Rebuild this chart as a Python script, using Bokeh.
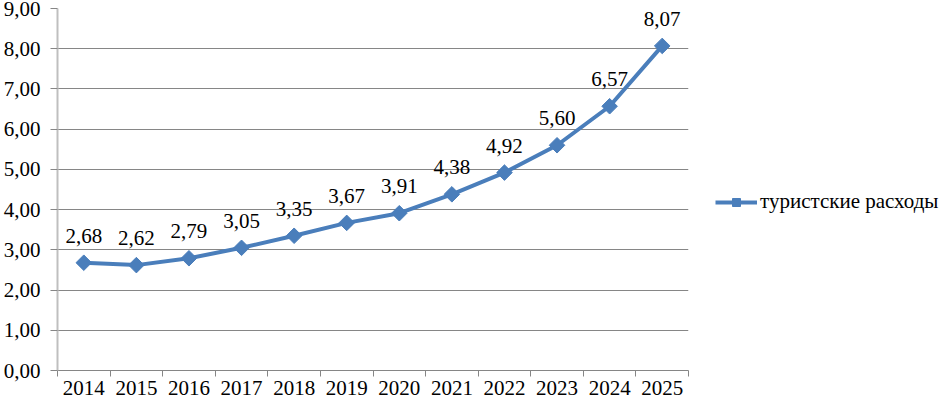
import math
from bokeh.plotting import figure
from bokeh.models import (ColumnDataSource, FixedTicker, Range1d, Legend, LegendItem,
                          CustomJSTickFormatter, LabelSet)
from bokeh.core.properties import value
from bokeh.embed import file_html
from bokeh.resources import INLINE

years = ["2014", "2015", "2016", "2017", "2018", "2019", "2020", "2021", "2022", "2023", "2024", "2025"]
values = [2.68, 2.62, 2.79, 3.05, 3.35, 3.67, 3.91, 4.38, 4.92, 5.60, 6.57, 8.07]
y_ticks = [0, 1, 2, 3, 4, 5, 6, 7, 8, 9]
series_name = "туристские расходы"

FONT = "Liberation Serif"
COLOR = "#4a7ebb"

xs = [i + 0.5 for i in range(len(years))]
labels = [f"{v:.2f}".replace(".", ",") for v in values]
src = ColumnDataSource(dict(x=xs, y=values, lab=labels))

p = figure(width=930, height=399, output_backend="svg", toolbar_location=None,
           x_range=Range1d(0, len(years)), y_range=Range1d(0, 9),
           frame_width=631,
           min_border_left=49, min_border_top=8, min_border_bottom=29, min_border_right=0)
p.outline_line_color = None
p.background_fill_color = "white"
p.border_fill_color = "white"

# x axis: boundaries as minor ticks, labels at centers
xax = p.xaxis[0]
xax.ticker = FixedTicker(ticks=xs, minor_ticks=list(range(len(years) + 1)))
xax.major_label_overrides = {x: y for x, y in zip(xs, years)}
xax.major_tick_line_color = None
xax.minor_tick_in = 0
xax.minor_tick_out = 6
xax.minor_tick_line_color = "#868686"
xax.axis_line_color = "#868686"
xax.major_label_text_font = FONT
xax.major_label_text_font_size = "21px"
xax.major_label_text_color = "black"
xax.major_label_standoff = 4

yax = p.yaxis[0]
yax.ticker = FixedTicker(ticks=y_ticks, minor_ticks=[])
yax.formatter = CustomJSTickFormatter(code="return tick.toFixed(2).replace('.', ',');")
yax.major_tick_in = 0
yax.major_tick_out = 7
yax.major_tick_line_color = "#868686"
yax.axis_line_color = "#bfbfbf"
yax.axis_line_width = 2
yax.major_label_text_font = FONT
yax.major_label_text_font_size = "21px"
yax.major_label_text_color = "black"
yax.major_label_standoff = 10

p.xgrid.visible = False
p.ygrid.ticker = FixedTicker(ticks=y_ticks)
p.ygrid.grid_line_color = "#868686"
p.ygrid.grid_line_width = 1

line = p.line("x", "y", source=src, line_color=COLOR, line_width=4)
marks = p.scatter("x", "y", source=src, marker="square", size=11, angle=math.pi / 4,
                  fill_color=COLOR, line_color=COLOR)

lbls = LabelSet(x="x", y="y", text="lab", source=src, text_align="center",
                text_baseline="middle", y_offset=27, text_font=value(FONT),
                text_font_size="21px", text_color="black")
p.add_layout(lbls)

legend = Legend(items=[LegendItem(label=series_name, renderers=[line, marks])],
                location=(27, 156), border_line_color=None, background_fill_alpha=0,
                label_text_font=FONT, label_text_font_size="21px", label_text_color="black",
                glyph_width=42, glyph_height=20, label_standoff=3, padding=0, margin=0,
                spacing=0)
p.add_layout(legend, "right")

open("out.html", "w").write(file_html(p, INLINE))
